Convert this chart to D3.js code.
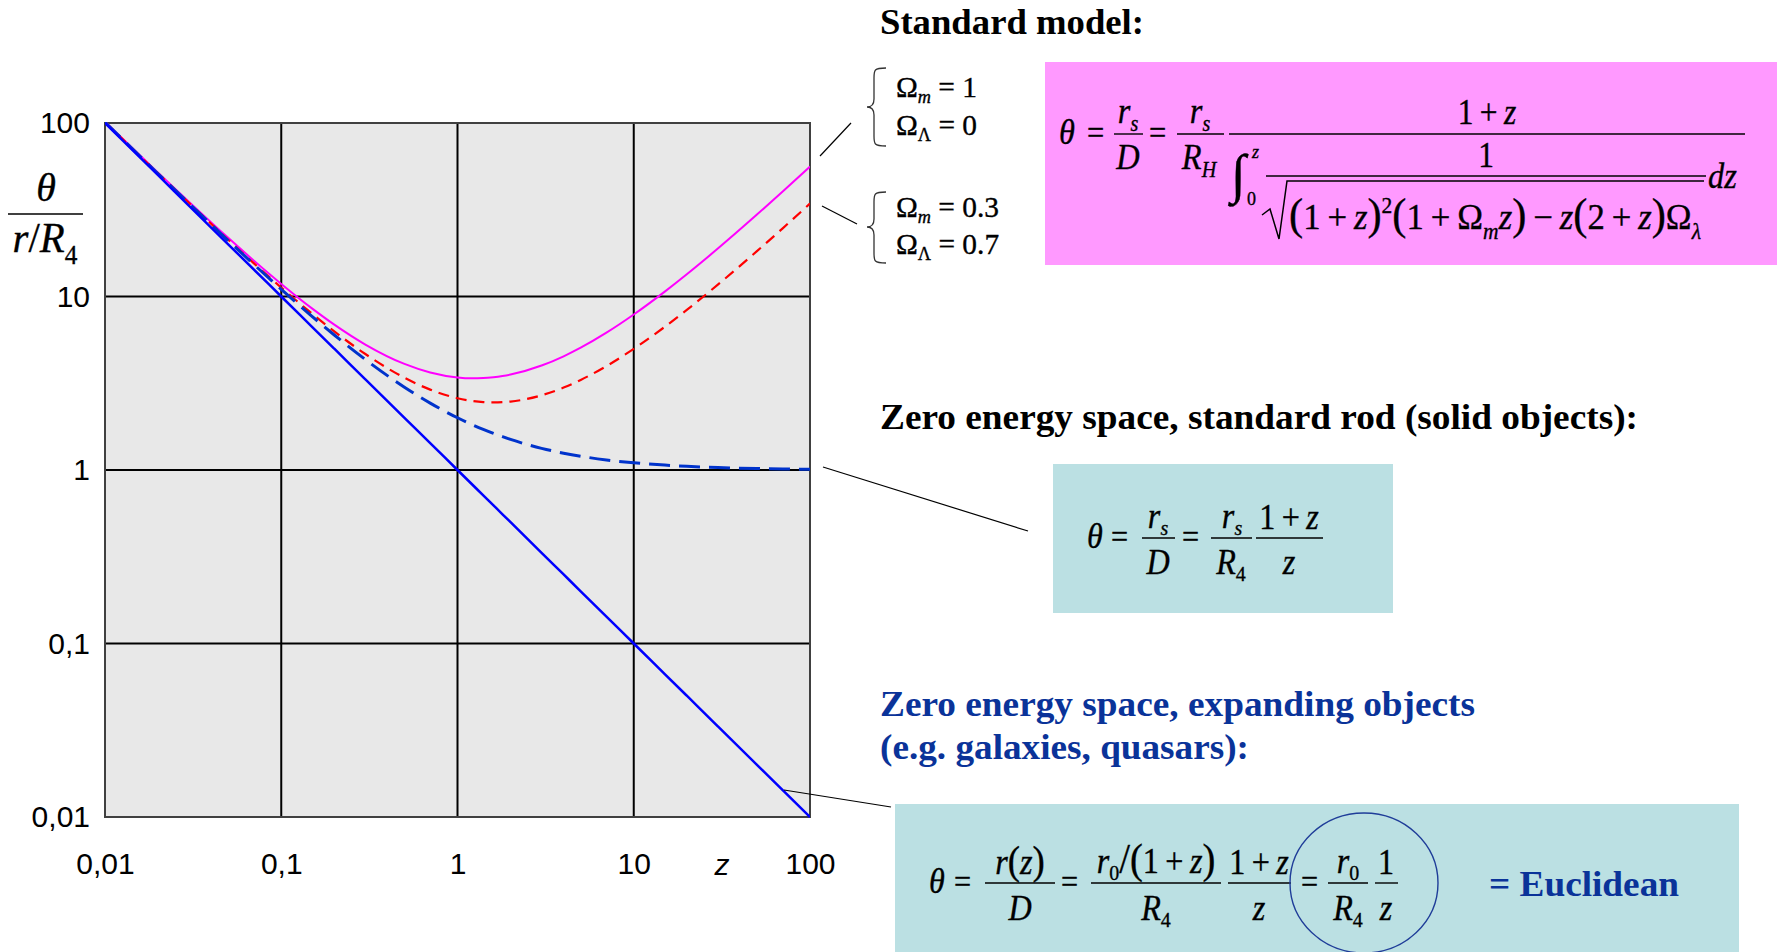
<!DOCTYPE html>
<html>
<head>
<meta charset="utf-8">
<script src="https://cdn.jsdelivr.net/npm/d3@7"></script>
<style>
  html, body { margin: 0; padding: 0; background: #fff; }
  svg { display: block; }
</style>
</head>
<body>
<svg id="chart" width="1780" height="952"></svg>
<script>
// Redshift samples shared by every curve
const zValues = [0.01, 0.02, 0.03, 0.05, 0.07, 0.1, 0.15, 0.2, 0.3, 0.5, 0.7, 1, 1.2, 1.4, 1.6, 1.8, 2, 3, 4, 5, 7, 10, 15, 20, 30, 50, 70, 100];

// Euclidean / expanding objects: theta = r0/R4 * 1/z
const euclidean = [100, 50, 33.33, 20, 14.29, 10, 6.667, 5, 3.333, 2, 1.429, 1, 0.8333, 0.7143, 0.625, 0.5556, 0.5, 0.3333, 0.25, 0.2, 0.1429, 0.1, 0.06667, 0.05, 0.03333, 0.02, 0.01429, 0.01];

// Zero energy space, standard rod: (1+z)/z
const standardRod = [101, 51, 34.33, 21, 15.29, 11, 7.667, 6, 4.333, 3, 2.429, 2, 1.833, 1.714, 1.625, 1.556, 1.5, 1.333, 1.25, 1.2, 1.143, 1.1, 1.067, 1.05, 1.033, 1.02, 1.014, 1.01];

// Standard model, Omega_m = 1, Omega_Lambda = 0
const modelMatter = [101.75, 51.77, 35.10, 21.78, 16.08, 11.82, 8.519, 6.886, 5.287, 4.087, 3.648, 3.414, 3.376, 3.385, 3.423, 3.479, 3.549, 4.000, 4.523, 5.070, 6.188, 7.874, 10.67, 13.43, 18.89, 29.65, 40.28, 56.08];

// Standard model, Omega_m = 0.3, Omega_Lambda = 0.7
const modelLambda = [101.23, 51.23, 34.57, 21.24, 15.53, 11.26, 7.943, 6.293, 4.661, 3.401, 2.906, 2.593, 2.504, 2.462, 2.451, 2.459, 2.480, 2.695, 2.986, 3.305, 3.971, 4.990, 6.688, 8.372, 11.70, 18.26, 24.72, 34.33];

// Axis ticks
const xTicks = [0.01, 0.1, 1, 10, 100];
const xTickLabels = ["0,01", "0,1", "1", "10", "100"];
const yTicks = [0.01, 0.1, 1, 10, 100];
const yTickLabels = ["0,01", "0,1", "1", "10", "100"];

const SANS = "'Liberation Sans', Arial, sans-serif";
const SERIF = "'Liberation Serif', 'Times New Roman', serif";

const svg = d3.select("#chart");
const plot = { left: 105, right: 810, top: 123, bottom: 817 };

const x = d3.scaleLog().domain([0.01, 100]).range([plot.left, plot.right]);
const y = d3.scaleLog().domain([0.01, 100]).range([plot.bottom, plot.top]);

// Plot background
svg.append("rect")
  .attr("x", plot.left).attr("y", plot.top)
  .attr("width", plot.right - plot.left).attr("height", plot.bottom - plot.top)
  .attr("fill", "#e8e8e8");

// Grid
const grid = svg.append("g").attr("stroke", "#000").attr("stroke-width", 2);
xTicks.slice(1, -1).forEach(v => {
  grid.append("line").attr("x1", x(v)).attr("x2", x(v)).attr("y1", plot.top).attr("y2", plot.bottom);
});
yTicks.slice(1, -1).forEach(v => {
  grid.append("line").attr("y1", y(v)).attr("y2", y(v)).attr("x1", plot.left).attr("x2", plot.right);
});

// Axes with tick labels only
const xAxis = svg.append("g")
  .attr("transform", `translate(0,${plot.bottom})`)
  .call(d3.axisBottom(x).tickValues(xTicks).tickFormat((d, i) => xTickLabels[i]).tickSize(0).tickPadding(36));
const yAxis = svg.append("g")
  .attr("transform", `translate(${plot.left},0)`)
  .call(d3.axisLeft(y).tickValues(yTicks).tickFormat((d, i) => yTickLabels[i]).tickSize(0).tickPadding(15));
[xAxis, yAxis].forEach(a => {
  a.select(".domain").remove();
  a.selectAll("text").attr("font-family", SANS).attr("font-size", 30).attr("fill", "#000");
});

// z axis title
svg.append("text").attr("x", 722).attr("y", 875).attr("text-anchor", "middle")
  .attr("font-family", SANS).attr("font-size", 30).attr("font-style", "italic").text("z");

// Plot border
svg.append("rect")
  .attr("x", plot.left).attr("y", plot.top)
  .attr("width", plot.right - plot.left).attr("height", plot.bottom - plot.top)
  .attr("fill", "none").attr("stroke", "#404040").attr("stroke-width", 2);

// Curves
svg.append("clipPath").attr("id", "plotClip").append("rect")
  .attr("x", plot.left).attr("y", plot.top - 1)
  .attr("width", plot.right - plot.left).attr("height", plot.bottom - plot.top + 2);

const line = d3.line().x(d => x(d[0])).y(d => y(d[1])).curve(d3.curveMonotoneX);
const curves = [
  { values: modelMatter, color: "#ff00ff", width: 2, dash: null },
  { values: modelLambda, color: "#ff0000", width: 2.2, dash: "11,7" },
  { values: standardRod, color: "#0033cc", width: 3, dash: "21,9" },
  { values: euclidean, color: "#0000ff", width: 2.5, dash: null }
];
const curveG = svg.append("g").attr("clip-path", "url(#plotClip)");
curves.forEach(c => {
  curveG.append("path")
    .datum(zValues.map((z, i) => [z, c.values[i]]))
    .attr("d", line)
    .attr("fill", "none")
    .attr("stroke", c.color)
    .attr("stroke-width", c.width)
    .attr("stroke-dasharray", c.dash);
});

// ---------- math typesetting helpers ----------
const I = t => ({ t, i: true });
const U = t => ({ t });
const SUBI = t => ({ t, i: true, sub: true });
const SUB = t => ({ t, sub: true });
const SUP = t => ({ t, sup: true });
const BIG = (t, size) => ({ t, size });

// Text with sub/superscripts, anchored at (px, py), optionally squeezed horizontally
function eq(parent, px, py, tokens, size, anchor, opts) {
  const o = opts || {};
  const sx = o.sx || 1;
  const subShift = o.subShift || 0.28;
  const t = parent.append("text")
    .attr("transform", `translate(${px},${py}) scale(${sx},1)`)
    .attr("font-family", SERIF).attr("font-size", size)
    .attr("text-anchor", anchor || "start").attr("fill", "#000")
    .attr("stroke", "#000").attr("stroke-width", 0.35);
  let shift = 0;
  tokens.forEach(tok => {
    const s = t.append("tspan").text(tok.t);
    if (tok.i) s.attr("font-style", "italic");
    const target = tok.sub ? size * subShift : tok.sup ? -size * 0.45 : 0;
    if (target !== shift) { s.attr("dy", target - shift); shift = target; }
    if (tok.sub || tok.sup) s.attr("font-size", size * 0.62);
    if (tok.size) s.attr("font-size", tok.size);
  });
  if (o.len) t.attr("textLength", o.len).attr("lengthAdjust", "spacingAndGlyphs");
  return t;
}
function hline(parent, x1, x2, yy, w) {
  parent.append("line").attr("x1", x1).attr("x2", x2).attr("y1", yy).attr("y2", yy)
    .attr("stroke", "#000").attr("stroke-width", w || 1.4);
}
function thin(parent, x1, y1, x2, y2) {
  parent.append("line").attr("x1", x1).attr("y1", y1).attr("x2", x2).attr("y2", y2)
    .attr("stroke", "#000").attr("stroke-width", 1.2);
}

// ---------- headings ----------
function heading(txt, px, py, len, color) {
  svg.append("text").attr("x", px).attr("y", py)
    .attr("font-family", SERIF).attr("font-weight", "bold").attr("font-size", 36)
    .attr("fill", color).attr("textLength", len).attr("lengthAdjust", "spacingAndGlyphs")
    .text(txt);
}
heading("Standard model:", 880, 34, 264, "#000");
heading("Zero energy space, standard rod (solid objects):", 880, 429, 758, "#000");
heading("Zero energy space, expanding objects", 880, 716, 595, "#0a3399");
heading("(e.g. galaxies, quasars):", 880, 759, 369, "#0a3399");

// ---------- y axis title: theta / (r/R4) ----------
const yt = svg.append("g");
eq(yt, 46, 201, [I("θ")], 40, "middle");
hline(yt, 8, 83, 214, 1.6);
eq(yt, 45, 252, [I("r"), U("/"), I("R"), SUB("4")], 43, "middle", { sx: 0.95 });

// ---------- brace legends ----------
const leg = svg.append("g");
function brace(g, xr, top, bottom, tip) {
  const xm = xr - 12, xt = xr - 19;
  g.append("path")
    .attr("d", `M${xr},${top} C${xm},${top} ${xm},${top + 2} ${xm},${top + 10} L${xm},${tip - 8} C${xm},${tip - 2} ${xm - 3},${tip} ${xt},${tip} C${xm - 3},${tip} ${xm},${tip + 2} ${xm},${tip + 8} L${xm},${bottom - 10} C${xm},${bottom - 2} ${xm},${bottom} ${xr},${bottom}`)
    .attr("fill", "none").attr("stroke", "#333").attr("stroke-width", 1.3);
}
brace(leg, 886, 68, 146, 107);
brace(leg, 886, 192, 263, 227);
const LS = { sx: 0.98, subShift: 0.2 };
eq(leg, 896, 97, [U("Ω"), SUBI("m"), U(" = 1")], 30, "start", LS);
eq(leg, 896, 135, [U("Ω"), SUB("Λ"), U(" = 0")], 30, "start", LS);
eq(leg, 896, 217, [U("Ω"), SUBI("m"), U(" = 0.3")], 30, "start", LS);
eq(leg, 896, 254, [U("Ω"), SUB("Λ"), U(" = 0.7")], 30, "start", LS);

// connector lines
thin(svg, 820, 156, 851, 123);
thin(svg, 822, 206, 857, 224);
thin(svg, 823, 467, 1028, 531);
thin(svg, 784, 790, 891, 807);

// ---------- standard model formula ----------
const P = { sx: 0.9, subShift: 0.22 };
const f1 = svg.append("g");
f1.append("rect").attr("x", 1045).attr("y", 62).attr("width", 732).attr("height", 203).attr("fill", "#ff99ff");
eq(f1, 1059, 144, [I("θ")], 36, "start", P);
eq(f1, 1087, 144, [U("=")], 34, "start", P);
hline(f1, 1114, 1143, 134);
eq(f1, 1128, 123, [I("r"), SUBI("s")], 36, "middle", P);
eq(f1, 1128, 169, [I("D")], 36, "middle", P);
eq(f1, 1149, 144, [U("=")], 34, "start", P);
hline(f1, 1177, 1224, 134);
eq(f1, 1200, 123, [I("r"), SUBI("s")], 36, "middle", P);
eq(f1, 1199, 169, [I("R"), SUBI("H")], 36, "middle", P);
hline(f1, 1229, 1745, 134);
eq(f1, 1487, 124, [U("1\u2009+\u2009"), I("z")], 35, "middle", P);
eq(f1, 1231, 192, [U("∫")], 54);
eq(f1, 1252, 158, [I("z")], 18);
eq(f1, 1247, 205, [U("0")], 18);
eq(f1, 1486, 167, [U("1")], 35, "middle", P);
hline(f1, 1266, 1706, 176);
f1.append("path")
  .attr("d", "M1262,215 L1270,209 L1279,239 L1287,181 L1704,181")
  .attr("fill", "none").attr("stroke", "#000").attr("stroke-width", 1.5);
eq(f1, 1289, 229, [
  BIG("(", 44), U("1\u2009+\u2009"), I("z"), BIG(")", 44), SUP("2"),
  BIG("(", 44), U("1\u2009+\u2009Ω"), SUBI("m"), I("z"), BIG(")", 44),
  U("\u2009−\u2009"), I("z"), BIG("(", 44), U("2\u2009+\u2009"), I("z"), BIG(")", 44),
  U("Ω"), SUBI("λ")
], 36, "start", { len: 412 });
eq(f1, 1708, 188, [I("dz")], 36, "start", P);

// ---------- standard rod formula ----------
const B = { sx: 0.92, subShift: 0.2 };
const f2 = svg.append("g");
f2.append("rect").attr("x", 1053).attr("y", 464).attr("width", 340).attr("height", 149).attr("fill", "#bbe0e3");
eq(f2, 1087, 548, [I("θ")], 35, "start", B);
eq(f2, 1111, 548, [U("=")], 33, "start", B);
hline(f2, 1142, 1175, 538);
eq(f2, 1158, 528, [I("r"), SUBI("s")], 35, "middle", B);
eq(f2, 1158, 574, [I("D")], 35, "middle", B);
eq(f2, 1182, 548, [U("=")], 33, "start", B);
hline(f2, 1211, 1252, 538);
eq(f2, 1232, 528, [I("r"), SUBI("s")], 35, "middle", B);
eq(f2, 1231, 574, [I("R"), SUB("4")], 35, "middle", B);
hline(f2, 1256, 1323, 538);
eq(f2, 1289, 529, [U("1\u2009+\u2009"), I("z")], 35, "middle", B);
eq(f2, 1289, 574, [I("z")], 35, "middle", B);

// ---------- expanding objects formula ----------
const f3 = svg.append("g");
f3.append("rect").attr("x", 895).attr("y", 804).attr("width", 844).attr("height", 148).attr("fill", "#bbe0e3");
eq(f3, 929, 893, [I("θ")], 35, "start", B);
eq(f3, 954, 893, [U("=")], 33, "start", B);
hline(f3, 985, 1055, 883);
eq(f3, 1020, 874, [I("r"), BIG("(", 40), I("z"), BIG(")", 40)], 35, "middle", B);
eq(f3, 1020, 920, [I("D")], 35, "middle", B);
eq(f3, 1061, 893, [U("=")], 33, "start", B);
hline(f3, 1091, 1221, 883);
eq(f3, 1156, 873, [I("r"), SUB("0"), BIG("/", 42), BIG("(", 42), U("1\u2009+\u2009"), I("z"), BIG(")", 42)], 35, "middle", B);
eq(f3, 1156, 920, [I("R"), SUB("4")], 35, "middle", B);
hline(f3, 1228, 1291, 883);
eq(f3, 1259, 874, [U("1\u2009+\u2009"), I("z")], 35, "middle", B);
eq(f3, 1259, 920, [I("z")], 35, "middle", B);
eq(f3, 1301, 893, [U("=")], 33, "start", B);
hline(f3, 1328, 1368, 883);
eq(f3, 1348, 873, [I("r"), SUB("0")], 35, "middle", B);
eq(f3, 1348, 920, [I("R"), SUB("4")], 35, "middle", B);
hline(f3, 1375, 1398, 883);
eq(f3, 1386, 874, [U("1")], 35, "middle", B);
eq(f3, 1386, 920, [I("z")], 35, "middle", B);
f3.append("ellipse").attr("cx", 1364).attr("cy", 883).attr("rx", 74).attr("ry", 70)
  .attr("fill", "none").attr("stroke", "#1f3d99").attr("stroke-width", 1.4);
svg.append("text").attr("x", 1489).attr("y", 896)
  .attr("font-family", SERIF).attr("font-weight", "bold").attr("font-size", 36)
  .attr("fill", "#0a3399").attr("textLength", 190).attr("lengthAdjust", "spacingAndGlyphs")
  .text("= Euclidean");
</script>
</body>
</html>
